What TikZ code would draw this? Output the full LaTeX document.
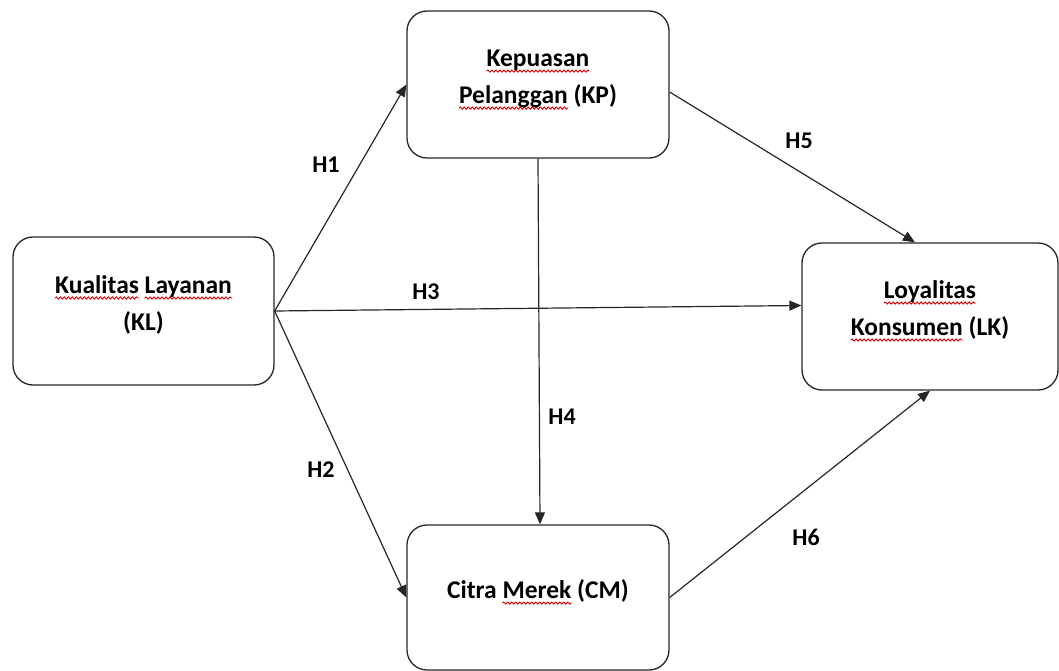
\documentclass[tikz,border=0pt]{standalone}
\usepackage{fontspec}
\setmainfont{Carlito}
\usetikzlibrary{arrows.meta,decorations.pathmorphing,calc}
\newcommand\wavy[1]{\leavevmode\setbox0\hbox{#1}\rlap{\tikz[overlay]\draw[red!85!black,line width=0.9pt,decorate,decoration={snake,amplitude=1.1pt,segment length=4pt}] (0pt,-4.5pt) -- (\wd0,-4.5pt);}\box0\relax}
\tikzset{
  box/.style={draw=black!85,line width=1.3pt,rounded corners=20pt,inner sep=0pt},
  txt/.style={font=\bfseries\fontsize{25.5}{37}\selectfont,text=black,align=center,inner sep=0pt},
  lab/.style={font=\bfseries\fontsize{24}{28}\selectfont,text=black,inner sep=0pt},
  arr/.style={line width=1.2pt,draw=black!85,-{Triangle[length=12pt,width=10pt]}}
}
\begin{document}
\begin{tikzpicture}[x=1pt,y=-1pt]
\useasboundingbox (0,0) rectangle (1059,671);
\node[box,minimum width=261pt,minimum height=148pt] (KL) at (143.5,311) {};
\node[box,minimum width=262pt,minimum height=147pt] (KP) at (538,84.5) {};
\node[box,minimum width=262pt,minimum height=145pt] (CM) at (538,597.5) {};
\node[box,minimum width=256pt,minimum height=147pt] (LK) at (930,316.5) {};
\node[txt] (KLt) at (143.5,305) {\wavy{Kualitas} \wavy{Layanan}\\(KL)};
\node[txt] (KPt) at (538,79) {\wavy{Kepuasan}\\\wavy{Pelanggan} (KP)};
\node[txt] (CMt) at (538,591) {Citra \wavy{Merek} (CM)};
\node[txt] (LKt) at (930,310) {\wavy{Loyalitas}\\\wavy{Konsumen} (LK)};
\draw[arr] (KL.east) -- (KP.west);
\draw[arr] (KL.east) -- (CM.west);
\draw[arr] (KL.east) -- ([yshift=11pt]LK.west);
\draw[arr] (KP.south) -- ([xshift=2pt]CM.north);
\draw[arr] ([yshift=-7.5pt]KP.east) -- ([xshift=-15pt]LK.north);
\draw[arr] (CM.east) -- (LK.south);
\node[lab] (H1) at (326,165) {H1};
\node[lab] (H2) at (321,470) {H2};
\node[lab] (H3) at (426,292) {H3};
\node[lab] (H4) at (562,417) {H4};
\node[lab] (H5) at (799,141) {H5};
\node[lab] (H6) at (806,537) {H6};
\end{tikzpicture}
\end{document}
